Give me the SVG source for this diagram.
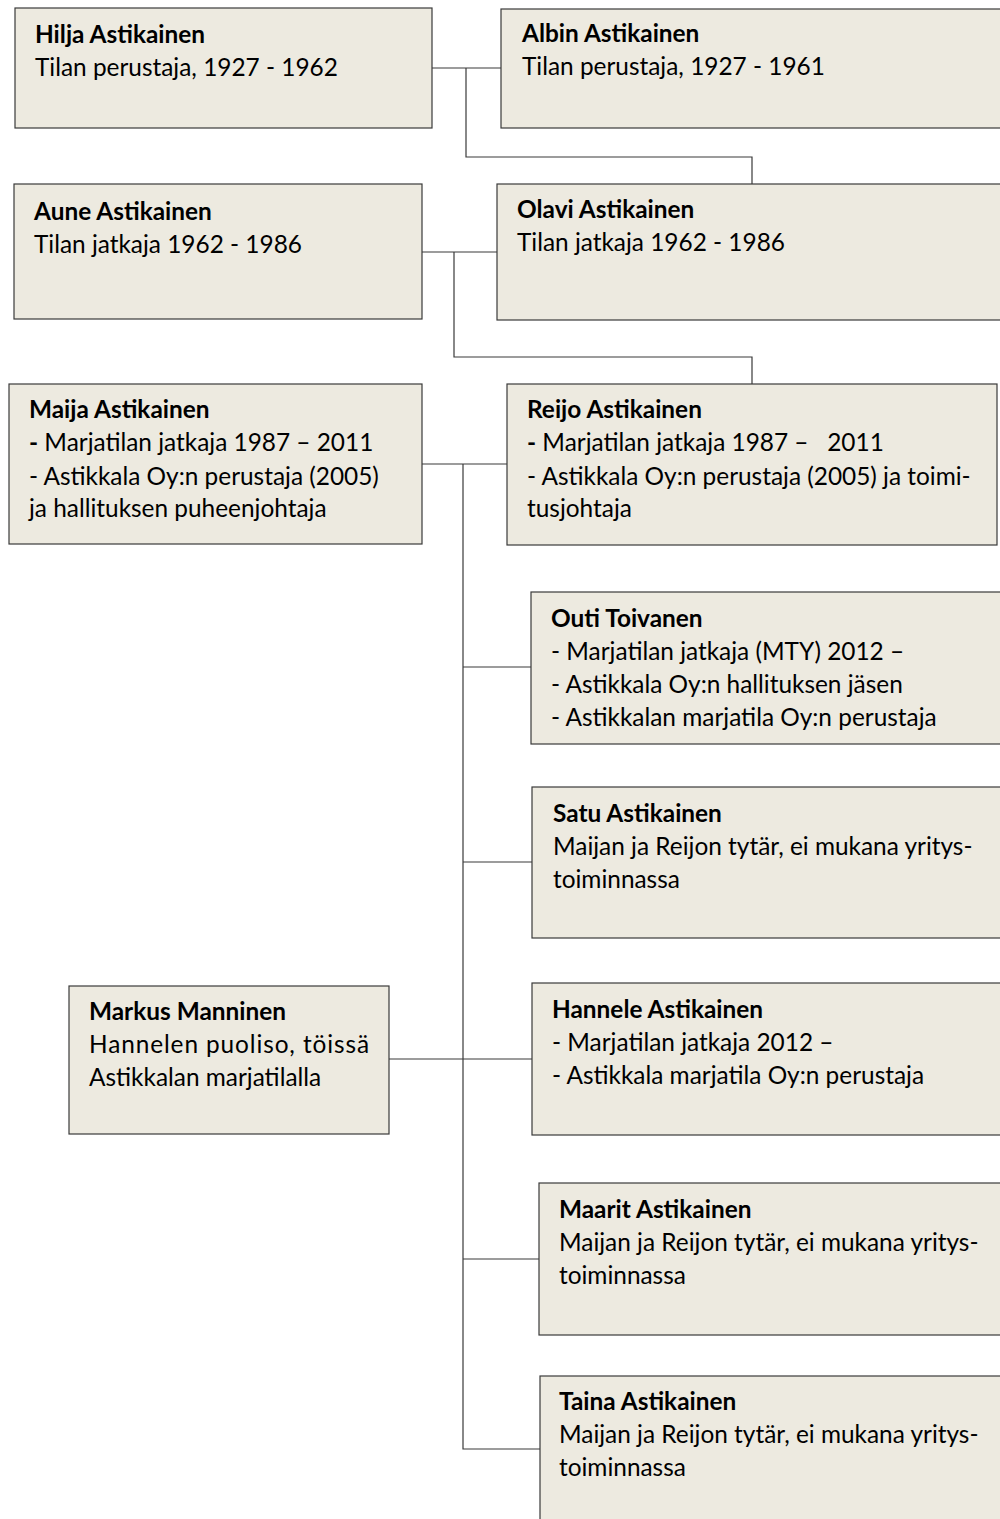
<svg xmlns="http://www.w3.org/2000/svg" width="1000" height="1519" viewBox="0 0 1000 1519">
<style>
.box{fill:#edeae0;stroke:#3a3a3a;stroke-width:1.2}
.conn{fill:none;stroke:#3a3a3a;stroke-width:1.2}
text{font-family:Lato,"Open Sans","Liberation Sans",sans-serif;font-size:24.4px;fill:#000}
.n{font-weight:bold}
</style>
<rect width="1000" height="1519" fill="#fff"/>
<g id="connectors">
<path class="conn" d="M432,68H501M466,68V157H752V184"/>
<path class="conn" d="M422,252H497M454,252V357H752V384"/>
<path class="conn" d="M422,464H507M463,464V1449H540"/>
<path class="conn" d="M463,667H531M463,862H532M389,1059H532M463,1259H539"/>
</g>
<g id="hilja"><rect class="box" x="15" y="8" width="417" height="120"/>
<text x="35" y="43" class="n">Hilja Astikainen</text><text x="35" y="76">Tilan perustaja, 1927 - 1962</text></g>
<g id="albin"><rect class="box" x="501" y="9" width="510" height="119"/>
<text x="522" y="42" class="n">Albin Astikainen</text><text x="522" y="75">Tilan perustaja, 1927 - 1961</text></g>
<g id="aune"><rect class="box" x="14" y="184" width="408" height="135"/>
<text x="34" y="220" class="n">Aune Astikainen</text><text x="34" y="253">Tilan jatkaja 1962 - 1986</text></g>
<g id="olavi"><rect class="box" x="497" y="184" width="514" height="136"/>
<text x="517" y="218" class="n">Olavi Astikainen</text><text x="517" y="251">Tilan jatkaja 1962 - 1986</text></g>
<g id="maija"><rect class="box" x="9" y="384" width="413" height="160"/>
<text x="29" y="418" class="n">Maija Astikainen</text>
<text x="29" y="451"><tspan class="n">-</tspan> Marjatilan jatkaja 1987 – 2011</text>
<text x="29" y="485">- Astikkala Oy:n perustaja (2005)</text>
<text x="29" y="517">ja hallituksen puheenjohtaja</text></g>
<g id="reijo"><rect class="box" x="507" y="384" width="490" height="161"/>
<text x="527" y="418" class="n">Reijo Astikainen</text>
<text x="527" y="451" xml:space="preserve"><tspan class="n">-</tspan> Marjatilan jatkaja 1987 –   2011</text>
<text x="527" y="485">- Astikkala Oy:n perustaja (2005) ja toimi-</text>
<text x="527" y="517">tusjohtaja</text></g>
<g id="outi"><rect class="box" x="531" y="592" width="480" height="152"/>
<text x="551" y="627" class="n">Outi Toivanen</text>
<text x="551" y="660">- Marjatilan jatkaja (MTY) 2012 –</text>
<text x="551" y="693">- Astikkala Oy:n hallituksen jäsen</text>
<text x="551" y="726">- Astikkalan marjatila Oy:n perustaja</text></g>
<g id="satu"><rect class="box" x="532" y="787" width="479" height="151"/>
<text x="553" y="822" class="n">Satu Astikainen</text>
<text x="553" y="855">Maijan ja Reijon tytär, ei mukana yritys-</text>
<text x="553" y="888">toiminnassa</text></g>
<g id="hannele"><rect class="box" x="532" y="983" width="479" height="152"/>
<text x="552" y="1018" class="n">Hannele Astikainen</text>
<text x="552" y="1051">- Marjatilan jatkaja 2012 –</text>
<text x="552" y="1084">- Astikkala marjatila Oy:n perustaja</text></g>
<g id="markus"><rect class="box" x="69" y="986" width="320" height="148"/>
<text x="89" y="1020" class="n">Markus Manninen</text>
<text x="89" y="1053" textLength="280" lengthAdjust="spacing">Hannelen puoliso, töissä</text>
<text x="89" y="1086">Astikkalan marjatilalla</text></g>
<g id="maarit"><rect class="box" x="539" y="1183" width="472" height="152"/>
<text x="559" y="1218" class="n">Maarit Astikainen</text>
<text x="559" y="1251">Maijan ja Reijon tytär, ei mukana yritys-</text>
<text x="559" y="1284">toiminnassa</text></g>
<g id="taina"><rect class="box" x="540" y="1376" width="471" height="160"/>
<text x="559" y="1410" class="n">Taina Astikainen</text>
<text x="559" y="1443">Maijan ja Reijon tytär, ei mukana yritys-</text>
<text x="559" y="1476">toiminnassa</text></g>
</svg>
